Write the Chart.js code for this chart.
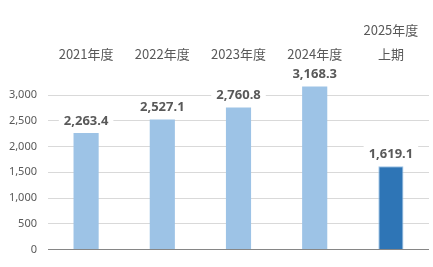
<!DOCTYPE html>
<html>
<head>
<meta charset="utf-8">
<script src="https://cdn.jsdelivr.net/npm/chart.js@4"></script>
<style>
  html, body { margin: 0; padding: 0; background: #fff; }
  #wrap { width: 433px; height: 267px; }
</style>
</head>
<body>
<div id="wrap"><canvas id="barChart"></canvas></div>
<script>
// Data
const categories = ["2021年度", "2022年度", "2023年度", "2024年度", ["2025年度", "上期"]];
const values = [2263.4, 2527.1, 2760.8, 3168.3, 1619.1];
const yTicks = [0, 500, 1000, 1500, 2000, 2500, 3000];

const lightBlue = "#9DC3E6";
const darkBlue = "#2E75B6";

// value labels above bars, on a white box that hides the gridlines
const valueLabels = {
  id: "valueLabels",
  afterDatasetsDraw(chart) {
    const ctx = chart.ctx;
    const meta = chart.getDatasetMeta(0);
    ctx.save();
    ctx.font = "bold 13px 'Noto Sans'";
    ctx.textAlign = "center";
    ctx.textBaseline = "middle";
    meta.data.forEach((bar, i) => {
      const txt = values[i].toLocaleString("en-US", { minimumFractionDigits: 1, maximumFractionDigits: 1 });
      const w = ctx.measureText(txt).width;
      const y = bar.y - 12;
      ctx.fillStyle = "#fff";
      ctx.fillRect(bar.x - w / 2 - 5, y - 10, w + 10, 20);
      ctx.fillStyle = "#595959";
      ctx.fillText(txt, bar.x, y);
    });
    ctx.restore();
  }
};

new Chart(document.getElementById("barChart"), {
  type: "bar",
  data: {
    labels: categories,
    datasets: [{
      data: values,
      backgroundColor: values.map((v, i) => i === values.length - 1 ? darkBlue : lightBlue),
      borderColor: lightBlue,
      borderWidth: values.map((v, i) => i === values.length - 1 ? 1 : 0),
      barPercentage: 0.66,
      categoryPercentage: 0.5
    }]
  },
  options: {
    responsive: true,
    maintainAspectRatio: false,
    animation: false,
    layout: { padding: { top: 12, right: 4, bottom: 17, left: 8 } },
    plugins: { legend: { display: false }, tooltip: { enabled: false } },
    scales: {
      x: {
        position: "top",
        grid: { display: false, drawTicks: false },
        border: { display: false },
        ticks: {
          color: "#595959",
          padding: 6,
          maxRotation: 0,
          font: { family: "'Noto Sans CJK JP'", size: 13, lineHeight: 1.85 }
        }
      },
      y: {
        min: 0,
        max: 3450,
        afterBuildTicks(scale) {
          scale.ticks = yTicks.map(v => ({ value: v }));
        },
        afterFit(scale) {
          scale.width = 40;
        },
        grid: {
          color: ctx => ctx.tick && ctx.tick.value === 0 ? "#868686" : "#d9d9d9",
          drawTicks: false
        },
        border: { display: false },
        ticks: {
          color: "#595959",
          padding: 11,
          font: { family: "'Noto Sans'", size: 11 },
          callback: v => v.toLocaleString("en-US")
        }
      }
    }
  },
  plugins: [valueLabels]
});
</script>
</body>
</html>
